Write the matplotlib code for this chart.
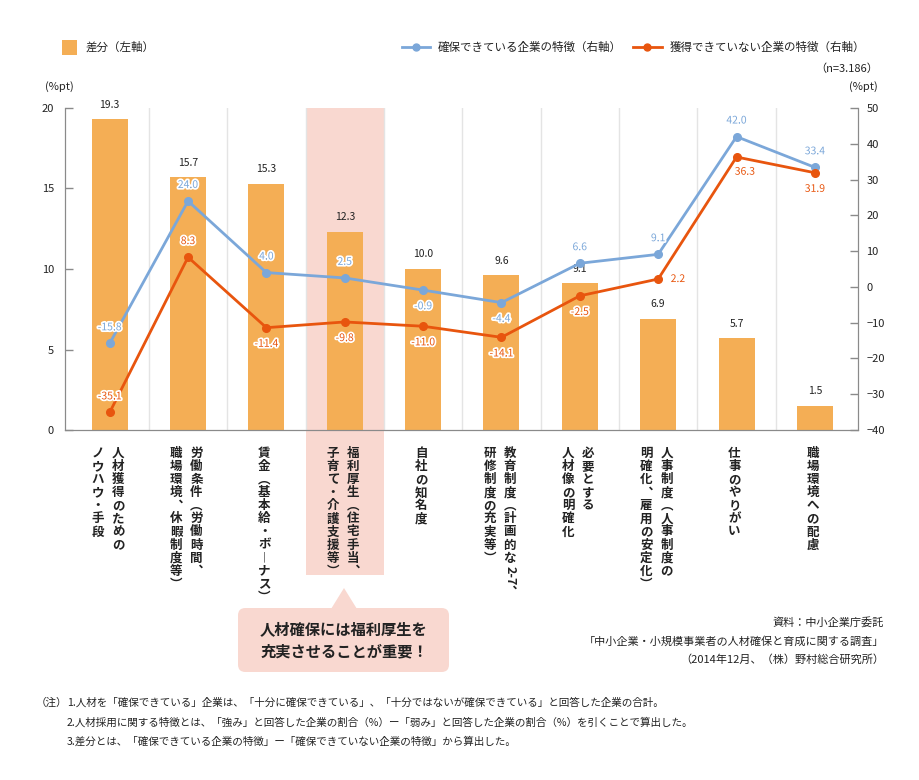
import matplotlib
matplotlib.use("Agg")
import matplotlib.pyplot as plt
import numpy as np
from matplotlib.patches import Rectangle, FancyBboxPatch, Polygon
from matplotlib.lines import Line2D
import matplotlib.patheffects as pe

plt.rcParams['font.family'] = ['Noto Sans CJK JP', 'DejaVu Sans']

# ---------------- data ----------------
categories = [
    ["人材獲得のための", "ノウハウ・手段"],
    ["労働条件︵労働時間︑", "職場環境︑休暇制度等︶"],
    ["賃金︵基本給・ボ︱ナス︶"],
    ["福利厚生︵住宅手当︑", "子育て・介護支援等︶"],
    ["自社の知名度"],
    ["教育制度︵計画的な2-7︑", "研修制度の充実等︶"],
    ["必要とする", "人材像の明確化"],
    ["人事制度︵人事制度の", "明確化︑雇用の安定化︶"],
    ["仕事のやりがい"],
    ["職場環境への配慮"],
]
diff_values = [19.3, 15.7, 15.3, 12.3, 10.0, 9.6, 9.1, 6.9, 5.7, 1.5]
secured_values = [-15.8, 24.0, 4.0, 2.5, -0.9, -4.4, 6.6, 9.1, 42.0, 33.4]
not_secured_values = [-35.1, 8.3, -11.4, -9.8, -11.0, -14.1, -2.5, 2.2, 36.3, 31.9]
left_ticks = [0, 5, 10, 15, 20]
right_ticks = [-40, -30, -20, -10, 0, 10, 20, 30, 40, 50]
highlight_index = 3

legend_labels = ["差分（左軸）", "確保できている企業の特徴（右軸）", "獲得できていない企業の特徴（右軸）"]
callout_text = "人材確保には福利厚生を\n充実させることが重要！"
source_lines = ["資料：中小企業庁委託",
                "「中小企業・小規模事業者の人材確保と育成に関する調査」",
                "（2014年12月、（株）野村総合研究所）"]
note_head = "（注）"
note_lines = ["1.人材を「確保できている」企業は、「十分に確保できている」、「十分ではないが確保できている」と回答した企業の合計。",
              "2.人材採用に関する特徴とは、「強み」と回答した企業の割合（%）ー「弱み」と回答した企業の割合（%）を引くことで算出した。",
              "3.差分とは、「確保できている企業の特徴」ー「確保できていない企業の特徴」から算出した。"]

# label placement styles
blue_pos = ['a', 'a', 'a', 'a', 'b', 'b', 'a', 'a', 'a', 'a']
orange_pos = ['a', 'a', 'b', 'b', 'b', 'b', 'b', 'r', 'br', 'b']

BAR = '#f4ae55'
BLUE = '#7ba7d9'
ORANGE = '#e8550e'
PINK = '#f9d8d0'
SPINE = '#8a8a8a'
TXT = '#222222'

W, H = 920, 780
fig = plt.figure(figsize=(W / 100, H / 100), dpi=100)
def fx(p): return p / W
def fy(p): return 1 - p / H

ax = fig.add_axes([fx(65), fy(430), fx(858) - fx(65), fy(108) - fy(430)])
ax2 = ax.twinx()
ax.set_zorder(1); ax2.set_zorder(2); ax.patch.set_visible(False)
ax2.patch.set_visible(False)

n = len(diff_values)
x = np.arange(n)
ax.set_xlim(-0.57, n - 1 + 0.55)
ax.set_ylim(0, 20)
ax2.set_ylim(-40, 50)

# highlight band
trans = matplotlib.transforms.blended_transform_factory(ax.transData, ax.transAxes)
ax.add_patch(Rectangle((highlight_index - 0.5, -0.45), 1.0, 1.45, transform=trans,
                       facecolor=PINK, edgecolor='none', clip_on=False, zorder=0))
# grid
for g in np.arange(0.5, n - 1, 1.0):
    ax.axvline(g, color='#e4e4e4', lw=1, zorder=0.5)

bars = ax.bar(x, diff_values, width=0.46, color=BAR, zorder=2)
for xi, v in zip(x, diff_values):
    ax.annotate(f"{v:.1f}", (xi, v), xytext=(0, 7), textcoords='offset points',
                ha='center', va='bottom', fontsize=7.5, color=TXT, zorder=5)

ax.set_yticks(left_ticks)
ax2.set_yticks(right_ticks)
ax.set_xticks([])
for a in (ax, ax2):
    a.tick_params(axis='y', direction='in', length=6, width=1, color=SPINE,
                  labelsize=8, labelcolor=TXT, pad=4)
    for s in a.spines.values():
        s.set_color(SPINE)
    a.spines['top'].set_visible(False)
ax.tick_params(axis='y', pad=8)
ax2.tick_params(axis='y', pad=6)

ax2.plot(x, secured_values, color=BLUE, lw=2, marker='o', ms=5.5, zorder=3)
ax2.plot(x, not_secured_values, color=ORANGE, lw=2, marker='o', ms=5.5, zorder=3)

stroke = [pe.withStroke(linewidth=2.5, foreground='white')]
def place(pos):
    return {'a': ((0, 8), 'center', 'bottom'),
            'b': ((0, -8), 'center', 'top'),
            'r': ((9, 0), 'left', 'center'),
            'br': ((6, -7), 'center', 'top')}[pos]
for xi, v, p in zip(x, secured_values, blue_pos):
    off, ha, va = place(p)
    ax2.annotate(f"{v:.1f}", (xi, v), xytext=off, textcoords='offset points', ha=ha, va=va,
                 fontsize=7.5, color=BLUE, path_effects=stroke, zorder=6)
for xi, v, p in zip(x, not_secured_values, orange_pos):
    off, ha, va = place(p)
    ax2.annotate(f"{v:.1f}", (xi, v), xytext=off, textcoords='offset points', ha=ha, va=va,
                 fontsize=7.5, color=ORANGE, path_effects=stroke, zorder=6)

# vertical category labels
def tokens(s):
    out, buf = [], ""
    for ch in s:
        if ord(ch) < 128:
            buf += ch
        else:
            if buf:
                out.append(buf); buf = ""
            out.append(ch)
    if buf:
        out.append(buf)
    return out

pitch = 9.4  # points per char
for xi, cols in zip(x, categories):
    offsets = [-1.5] if len(cols) == 1 else [6.0, -8.5]
    for col, ox in zip(cols, offsets):
        y = -17 + pitch / 2
        for tk in tokens(col):
            if len(tk) > 1:
                h = pitch * 0.55 * len(tk)
                ax.annotate(tk, (xi, 0), xycoords=('data', 'axes fraction'),
                            xytext=(ox, y - h / 2), textcoords='offset points',
                            ha='center', va='center', fontsize=9, fontweight='bold',
                            rotation=270, color=TXT, annotation_clip=False)
                y -= h
            else:
                ax.annotate(tk, (xi, 0), xycoords=('data', 'axes fraction'),
                            xytext=(ox, y - pitch / 2), textcoords='offset points',
                            ha='center', va='center', fontsize=9, fontweight='bold',
                            color=TXT, annotation_clip=False)
                y -= pitch

# legend
fig.add_artist(Rectangle((fx(62), fy(55)), fx(15), fy(40) - fy(55), transform=fig.transFigure,
                         facecolor=BAR, edgecolor='none'))
fig.text(fx(86), fy(47), legend_labels[0], fontsize=8.3, color=TXT, va='center')
for (x0, x1, c, lab) in [(402, 430, BLUE, legend_labels[1]), (633, 662, ORANGE, legend_labels[2])]:
    fig.add_artist(Line2D([fx(x0), fx(x1)], [fy(47), fy(47)], transform=fig.transFigure,
                          color=c, lw=2, marker=None))
    fig.add_artist(Line2D([fx((x0 + x1) / 2)], [fy(47)], transform=fig.transFigure,
                          color=c, marker='o', ms=5))
    fig.text(fx(x1 + 8), fy(47), lab, fontsize=8.3, color=TXT, va='center')

fig.text(fx(878), fy(69), "（n=3.186）", fontsize=8, color=TXT, va='center', ha='right')
fig.text(fx(45), fy(87), "(%pt)", fontsize=8, color=TXT, va='center', ha='left')
fig.text(fx(878), fy(87), "(%pt)", fontsize=8, color=TXT, va='center', ha='right')

# callout
fig.add_artist(FancyBboxPatch((fx(238), fy(672)), fx(449) - fx(238), fy(608) - fy(672),
                              boxstyle="round,pad=0,rounding_size=0.008",
                              transform=fig.transFigure, facecolor=PINK, edgecolor='none',
                              mutation_aspect=W / H))
fig.add_artist(Polygon([(fx(331), fy(609)), (fx(357), fy(609)), (fx(344), fy(588))],
                       closed=True, transform=fig.transFigure, facecolor=PINK, edgecolor='none'))
fig.text(fx(344), fy(640), callout_text, fontsize=11, fontweight='bold', color=TXT,
         ha='center', va='center', linespacing=1.45)

# source
for i, s in enumerate(source_lines):
    fig.text(fx(884), fy(622 + 19 * i), s, fontsize=8, color=TXT, ha='right', va='center')

# notes
fig.text(fx(36), fy(703), note_head, fontsize=7.6, color=TXT, ha='left', va='center')
for i, s in enumerate(note_lines):
    fig.text(fx(67), fy(703 + 19 * i), s, fontsize=7.6, color=TXT, ha='left', va='center')

fig.savefig("out.png", dpi=100, facecolor='white')
